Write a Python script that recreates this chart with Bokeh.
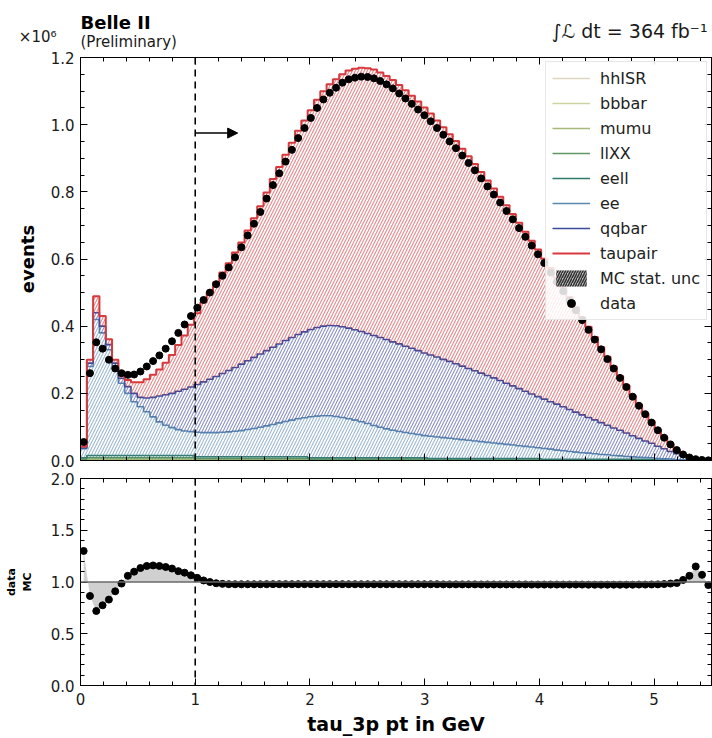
import numpy as np
from bokeh.plotting import figure
from bokeh.layouts import column
from bokeh.models import (Range1d, LinearAxis, Span, Arrow, NormalHead,
                          Legend, LegendItem, FixedTicker, PrintfTickFormatter,
                          CustomJSTickFormatter)
from bokeh.core.properties import value
from bokeh.embed import file_html
from bokeh.resources import INLINE

# ---------------- data (events in units of 10^6) ----------------
x_lo, x_hi, n_bins = 0.0, 5.5, 100
x_ticks = [0, 1, 2, 3, 4, 5]
y_ticks = [0.0, 0.2, 0.4, 0.6, 0.8, 1.0, 1.2]
ratio_ticks = [0.0, 0.5, 1.0, 1.5, 2.0]

hhISR = [0.0005, 0.001, 0.001, 0.001, 0.001, 0.001, 0.001, 0.001, 0.001, 0.001,
         0.001, 0.001, 0.001, 0.001, 0.001, 0.001, 0.001, 0.001, 0.0008, 0.0008,
         0.0008, 0.0008, 0.0008, 0.0008, 0.0008, 0.0008, 0.0008, 0.0008, 0.0008, 0.0008,
         0.0008, 0.0008, 0.0008, 0.0008, 0.0008, 0.0008, 0.0006, 0.0006, 0.0006, 0.0006,
         0.0006, 0.0006, 0.0006, 0.0006, 0.0006, 0.0006, 0.0006, 0.0006, 0.0006, 0.0006,
         0.0006, 0.0006, 0.0006, 0.0006, 0.0006, 0.0004, 0.0004, 0.0004, 0.0004, 0.0004,
         0.0004, 0.0004, 0.0004, 0.0004, 0.0004, 0.0004, 0.0004, 0.0004, 0.0004, 0.0004,
         0.0004, 0.0004, 0.0004, 0.0002, 0.0002, 0.0002, 0.0002, 0.0002, 0.0002, 0.0002,
         0.0002, 0.0002, 0.0002, 0.0002, 0.0002, 0.0002, 0.0002, 0.0002, 0.0002, 0.0002,
         0.0002, 0.0001, 0.0001, 0.0001, 0.0001, 0.0001, 0.0001, 0.0001, 0.0001, 0.0001]
bbbar = [0.0005, 0.001, 0.001, 0.001, 0.001, 0.001, 0.001, 0.001, 0.001, 0.001,
         0.001, 0.001, 0.001, 0.001, 0.001, 0.001, 0.001, 0.001, 0.0008, 0.0008,
         0.0008, 0.0008, 0.0008, 0.0008, 0.0008, 0.0008, 0.0008, 0.0008, 0.0008, 0.0008,
         0.0008, 0.0008, 0.0008, 0.0008, 0.0008, 0.0008, 0.0006, 0.0006, 0.0006, 0.0006,
         0.0006, 0.0006, 0.0006, 0.0006, 0.0006, 0.0006, 0.0006, 0.0006, 0.0006, 0.0006,
         0.0006, 0.0006, 0.0006, 0.0006, 0.0006, 0.0004, 0.0004, 0.0004, 0.0004, 0.0004,
         0.0004, 0.0004, 0.0004, 0.0004, 0.0004, 0.0004, 0.0004, 0.0004, 0.0004, 0.0004,
         0.0004, 0.0004, 0.0004, 0.0002, 0.0002, 0.0002, 0.0002, 0.0002, 0.0002, 0.0002,
         0.0002, 0.0002, 0.0002, 0.0002, 0.0002, 0.0002, 0.0002, 0.0002, 0.0002, 0.0002,
         0.0002, 0.0001, 0.0001, 0.0001, 0.0001, 0.0001, 0.0001, 0.0001, 0.0001, 0.0001]
mumu = [0.001, 0.002, 0.002, 0.002, 0.002, 0.002, 0.002, 0.002, 0.002, 0.002,
        0.002, 0.002, 0.002, 0.002, 0.002, 0.002, 0.002, 0.002, 0.0015, 0.0015,
        0.0015, 0.0015, 0.0015, 0.0015, 0.0015, 0.0015, 0.0015, 0.0015, 0.0015, 0.0015,
        0.0015, 0.0015, 0.0015, 0.0015, 0.0015, 0.0015, 0.001, 0.001, 0.001, 0.001,
        0.001, 0.001, 0.001, 0.001, 0.001, 0.001, 0.001, 0.001, 0.001, 0.001,
        0.001, 0.001, 0.001, 0.001, 0.001, 0.0008, 0.0008, 0.0008, 0.0008, 0.0008,
        0.0008, 0.0008, 0.0008, 0.0008, 0.0008, 0.0008, 0.0008, 0.0008, 0.0008, 0.0008,
        0.0008, 0.0008, 0.0008, 0.0005, 0.0005, 0.0005, 0.0005, 0.0005, 0.0005, 0.0005,
        0.0005, 0.0005, 0.0005, 0.0005, 0.0005, 0.0005, 0.0005, 0.0005, 0.0005, 0.0005,
        0.0005, 0.0002, 0.0002, 0.0002, 0.0002, 0.0002, 0.0002, 0.0002, 0.0002, 0.0002]
llXX = [0.002, 0.004, 0.004, 0.004, 0.004, 0.004, 0.004, 0.004, 0.004, 0.004,
        0.004, 0.004, 0.004, 0.004, 0.004, 0.004, 0.004, 0.004, 0.003, 0.003,
        0.003, 0.003, 0.003, 0.003, 0.003, 0.003, 0.003, 0.003, 0.003, 0.003,
        0.003, 0.003, 0.003, 0.003, 0.003, 0.003, 0.002, 0.002, 0.002, 0.002,
        0.002, 0.002, 0.002, 0.002, 0.002, 0.002, 0.002, 0.002, 0.002, 0.002,
        0.002, 0.002, 0.002, 0.002, 0.002, 0.0015, 0.0015, 0.0015, 0.0015, 0.0015,
        0.0015, 0.0015, 0.0015, 0.0015, 0.0015, 0.0015, 0.0015, 0.0015, 0.0015, 0.0015,
        0.0015, 0.0015, 0.0015, 0.001, 0.001, 0.001, 0.001, 0.001, 0.001, 0.001,
        0.001, 0.001, 0.001, 0.001, 0.001, 0.001, 0.001, 0.001, 0.001, 0.001,
        0.001, 0.0004, 0.0004, 0.0004, 0.0004, 0.0004, 0.0004, 0.0004, 0.0004, 0.0004]
eell = [0.004, 0.007, 0.007, 0.007, 0.007, 0.007, 0.007, 0.007, 0.007, 0.007,
        0.007, 0.007, 0.007, 0.007, 0.007, 0.007, 0.007, 0.007, 0.005, 0.005,
        0.005, 0.005, 0.005, 0.005, 0.005, 0.005, 0.005, 0.005, 0.005, 0.005,
        0.005, 0.005, 0.005, 0.005, 0.005, 0.005, 0.004, 0.004, 0.004, 0.004,
        0.004, 0.004, 0.004, 0.004, 0.004, 0.004, 0.004, 0.004, 0.004, 0.004,
        0.004, 0.004, 0.004, 0.004, 0.004, 0.003, 0.003, 0.003, 0.003, 0.003,
        0.003, 0.003, 0.003, 0.003, 0.003, 0.003, 0.003, 0.003, 0.003, 0.003,
        0.003, 0.003, 0.003, 0.002, 0.002, 0.002, 0.002, 0.002, 0.002, 0.002,
        0.002, 0.002, 0.002, 0.002, 0.002, 0.002, 0.002, 0.002, 0.002, 0.002,
        0.002, 0.0008, 0.0008, 0.0008, 0.0008, 0.0008, 0.0008, 0.0008, 0.0008, 0.0008]
ee = [0.027, 0.265, 0.405, 0.365, 0.315, 0.265, 0.215, 0.185, 0.16, 0.145,
      0.13, 0.115, 0.10, 0.09, 0.083, 0.077, 0.073, 0.071, 0.073, 0.072,
      0.072, 0.072, 0.073, 0.074, 0.076, 0.078, 0.081, 0.084, 0.088, 0.092,
      0.096, 0.101, 0.105, 0.109, 0.113, 0.116, 0.122, 0.124, 0.125, 0.125,
      0.123, 0.12, 0.116, 0.112, 0.107, 0.102, 0.096, 0.091, 0.086, 0.082,
      0.078, 0.075, 0.072, 0.069, 0.066, 0.066, 0.064, 0.062, 0.06, 0.058,
      0.056, 0.054, 0.052, 0.05, 0.048, 0.046, 0.044, 0.042, 0.04, 0.038,
      0.036, 0.034, 0.032, 0.032, 0.03, 0.027, 0.025, 0.023, 0.021, 0.019,
      0.018, 0.016, 0.014, 0.013, 0.011, 0.01, 0.008, 0.007, 0.006, 0.005,
      0.0045, 0.004, 0.0032, 0.0024, 0.0014, 0.0009, 0.0004, 0.0002, 0.0001, 0.0]
qqbar = [0.002, 0.01, 0.02, 0.02, 0.015, 0.01, 0.015, 0.02, 0.025, 0.028,
         0.041, 0.058, 0.077, 0.091, 0.102, 0.114, 0.124, 0.133, 0.142, 0.151,
         0.159, 0.167, 0.175, 0.183, 0.19, 0.198, 0.205, 0.212, 0.218, 0.224,
         0.23, 0.235, 0.241, 0.246, 0.251, 0.256, 0.26, 0.264, 0.267, 0.269,
         0.27, 0.27, 0.27, 0.269, 0.269, 0.268, 0.268, 0.267, 0.266, 0.263,
         0.261, 0.257, 0.254, 0.25, 0.246, 0.242, 0.238, 0.233, 0.229, 0.224,
         0.219, 0.214, 0.209, 0.204, 0.199, 0.194, 0.188, 0.182, 0.176, 0.17,
         0.164, 0.158, 0.152, 0.147, 0.141, 0.137, 0.131, 0.125, 0.119, 0.113,
         0.106, 0.101, 0.095, 0.088, 0.082, 0.076, 0.07, 0.063, 0.056, 0.049,
         0.043, 0.037, 0.03, 0.023, 0.017, 0.0105, 0.005, 0.0012, 0.0, 0.0]
taupair = [0.005, 0.01, 0.049, 0.03, 0.016, 0.01, 0.019, 0.02, 0.033, 0.045,
           0.056, 0.067, 0.079, 0.095, 0.114, 0.138, 0.16, 0.185, 0.212, 0.237,
           0.258, 0.281, 0.301, 0.319, 0.342, 0.362, 0.388, 0.414, 0.44, 0.471,
           0.501, 0.527, 0.553, 0.58, 0.607, 0.629, 0.653, 0.678, 0.699, 0.718,
           0.734, 0.752, 0.767, 0.777, 0.785, 0.79, 0.792, 0.789, 0.785, 0.78,
           0.771, 0.762, 0.752, 0.742, 0.731, 0.719, 0.704, 0.691, 0.676, 0.663,
           0.647, 0.632, 0.616, 0.599, 0.581, 0.564, 0.547, 0.53, 0.512, 0.494,
           0.475, 0.456, 0.438, 0.418, 0.398, 0.376, 0.355, 0.335, 0.313, 0.291,
           0.27, 0.247, 0.225, 0.204, 0.183, 0.162, 0.142, 0.12, 0.101, 0.083,
           0.066, 0.049, 0.035, 0.022, 0.011, 0.0046, 0.0015, 0.0005, 0.0, 0.0]
data = [0.055, 0.26, 0.352, 0.333, 0.30, 0.274, 0.26, 0.255, 0.256, 0.265,
        0.28, 0.296, 0.313, 0.333, 0.355, 0.38, 0.405, 0.43, 0.455, 0.478,
        0.50, 0.525, 0.55, 0.575, 0.605, 0.635, 0.67, 0.705, 0.74, 0.78,
        0.82, 0.855, 0.89, 0.925, 0.96, 0.99, 1.02, 1.05, 1.075, 1.095,
        1.11, 1.125, 1.135, 1.14, 1.143, 1.142, 1.138, 1.13, 1.12, 1.108,
        1.093, 1.078, 1.062, 1.045, 1.028, 1.01, 0.99, 0.97, 0.95, 0.93,
        0.908, 0.886, 0.864, 0.84, 0.816, 0.792, 0.768, 0.743, 0.718, 0.692,
        0.666, 0.64, 0.614, 0.588, 0.56, 0.532, 0.504, 0.476, 0.447, 0.418,
        0.389, 0.36, 0.331, 0.302, 0.274, 0.246, 0.219, 0.19, 0.163, 0.138,
        0.113, 0.09, 0.068, 0.048, 0.031, 0.018, 0.009, 0.004, 0.0015, 0.0005]
ratio = [1.30, 0.865, 0.72, 0.775, 0.83, 0.91, 0.985, 1.06, 1.10, 1.135,
         1.155, 1.16, 1.155, 1.145, 1.13, 1.105, 1.09, 1.065, 1.04, 1.015,
         1.0, 0.988, 0.982, 0.979, 0.978, 0.978, 0.978, 0.978, 0.978, 0.979,
         0.979, 0.979, 0.979, 0.979, 0.979, 0.979, 0.979, 0.979, 0.979, 0.979,
         0.979, 0.979, 0.978, 0.978, 0.978, 0.978, 0.978, 0.978, 0.978, 0.978,
         0.978, 0.978, 0.978, 0.978, 0.978, 0.978, 0.978, 0.977, 0.977, 0.977,
         0.977, 0.977, 0.977, 0.976, 0.976, 0.976, 0.976, 0.976, 0.976, 0.976,
         0.976, 0.975, 0.975, 0.975, 0.975, 0.975, 0.975, 0.975, 0.975, 0.975,
         0.974, 0.974, 0.974, 0.974, 0.974, 0.974, 0.974, 0.974, 0.975, 0.975,
         0.976, 0.977, 0.98, 0.985, 0.99, 1.02, 1.06, 1.15, 1.07, 0.97]

process_names = ["hhISR", "bbbar", "mumu", "llXX", "eell", "ee", "qqbar", "taupair"]
process_colors = ["#ddd5c0", "#cfd3a3", "#a7b878", "#5f9866", "#2f7b6b", "#5a88b0", "#3a4a9c", "#d8393c"]
process_values = [hhISR, bbbar, mumu, llXX, eell, ee, qqbar, taupair]

edges = np.linspace(x_lo, x_hi, n_bins + 1)
centers = 0.5 * (edges[:-1] + edges[1:])

FONT = "DejaVu Sans"
TXT = "#1a1a1a"
BLANK = CustomJSTickFormatter(code="return ''")


def style_axis(ax, ticks, minor_step, labels):
    lo, hi = min(ticks), max(ticks)
    ax.ticker = FixedTicker(ticks=ticks,
                            minor_ticks=list(np.round(np.arange(lo, hi + 0.6, minor_step), 3)))
    ax.major_tick_in = 7
    ax.major_tick_out = 0
    ax.minor_tick_in = 4
    ax.minor_tick_out = 0
    ax.axis_line_color = "black"
    ax.major_tick_line_color = "black"
    ax.minor_tick_line_color = "black"
    ax.major_label_text_font = FONT
    ax.major_label_text_font_size = "15px"
    ax.major_label_text_color = TXT
    ax.axis_label_text_font = FONT
    if labels:
        ax.formatter = PrintfTickFormatter(format="%.1f") if labels == "f" else PrintfTickFormatter(format="%d")
    else:
        ax.formatter = BLANK
        ax.major_label_standoff = 0


# ---------------- header (texts above the plot frame; x in screen pixels) ----------------
hdr = figure(width=712, height=50, x_range=Range1d(80, 711), y_range=Range1d(0, 50),
             output_backend="svg", toolbar_location=None, min_border_left=80,
             min_border_right=1, min_border_top=0, min_border_bottom=0,
             x_axis_type=None, outline_line_color=None)
hdr.grid.visible = False
hax = hdr.left[0]
hax.ticker = FixedTicker(ticks=[14])
hax.major_label_overrides = {14: "×10⁶"}
hax.axis_line_color = None
hax.major_tick_line_color = None
hax.minor_tick_line_color = None
hax.major_label_standoff = 18
hax.major_label_text_font = FONT
hax.major_label_text_font_size = "15px"
hax.major_label_text_color = TXT
hdr.text(x=[80], y=[28], text=["Belle II"], text_font=value(FONT), text_font_size="18px",
         text_font_style="bold", text_color="black", text_baseline="alphabetic")
hdr.text(x=[80], y=[9], text=["(Preliminary)"], text_font=value(FONT), text_font_size="15px",
         text_color=TXT, text_baseline="alphabetic")
hdr.text(x=[707], y=[20], text=["∫ℒ dt = 364 fb⁻¹"], text_font=value(FONT),
         text_font_size="19px", text_color=TXT, text_align="right", text_baseline="middle")

# ---------------- top panel ----------------
p = figure(width=712, height=419, x_range=Range1d(x_lo, x_hi), y_range=Range1d(0, 1.2),
           output_backend="svg", toolbar_location=None,
           min_border_left=80, min_border_right=1, min_border_top=7, min_border_bottom=9)
p.add_layout(LinearAxis(), "right")
p.add_layout(LinearAxis(), "above")
p.grid.visible = False
p.outline_line_color = "black"
style_axis(p.below[0], x_ticks, 0.2, None)
style_axis(p.above[0], x_ticks, 0.2, None)
style_axis(p.left[0], y_ticks, 0.05, "f")
style_axis(p.right[0], y_ticks, 0.05, None)
p.left[0].axis_label = "events"
p.left[0].axis_label_text_font_size = "18px"
p.left[0].axis_label_text_font_style = "bold"
p.left[0].axis_label_text_color = "black"
p.left[0].axis_label_standoff = 10
p.left[0].major_label_standoff = 6

base = np.zeros(n_bins)
items = []
for name, col, vals in zip(process_names, process_colors, process_values):
    top = base + np.array(vals)
    p.varea_step(x=edges, y1=np.append(base, base[-1]), y2=np.append(top, top[-1]),
                 step_mode="after", fill_alpha=0, hatch_pattern="/", hatch_color=col,
                 hatch_alpha=0.6, hatch_scale=6, hatch_weight=1.1)
    r = p.step(x=edges, y=np.append(top, top[-1]), mode="after", line_color=col,
               line_width=2 if name == "taupair" else 1.6)
    items.append(LegendItem(label=name, renderers=[r]))
    base = top

# legend-only handle (outside the visible x range)
unc = p.varea(x=[-3, -2], y1=[0, 0], y2=[1, 1], fill_color="#888888", fill_alpha=0.6,
              hatch_pattern="/", hatch_color="#333333", hatch_scale=5, hatch_weight=1.5)
items.append(LegendItem(label="MC stat. unc", renderers=[unc]))

pts = p.scatter(x=centers, y=data, size=7, color="black")
items.append(LegendItem(label="data", renderers=[pts]))

legend = Legend(items=items, location="top_right", margin=4, padding=6, spacing=5,
                glyph_width=38, glyph_height=20, label_standoff=10,
                label_text_font=FONT, label_text_font_size="16px", label_text_color="#222222",
                border_line_color="#cfcfcf", background_fill_alpha=0.85)
p.add_layout(legend)

p.add_layout(Span(location=1.0, dimension="height", line_dash="7 5", line_width=1.6,
                  line_color="black"))
p.add_layout(Arrow(x_start=1.0, y_start=0.975, x_end=1.37, y_end=0.975, line_width=1.5,
                   end=NormalHead(size=10, fill_color="black", line_color="black")))

# ---------------- ratio panel ----------------
p2 = figure(width=712, height=269, x_range=p.x_range, y_range=Range1d(0, 2.0),
            output_backend="svg", toolbar_location=None,
            min_border_left=80, min_border_right=1, min_border_top=9, min_border_bottom=53)
p2.add_layout(LinearAxis(), "right")
p2.add_layout(LinearAxis(), "above")
p2.grid.visible = False
p2.outline_line_color = "black"
style_axis(p2.below[0], x_ticks, 0.2, "d")
style_axis(p2.above[0], x_ticks, 0.2, None)
style_axis(p2.left[0], ratio_ticks, 0.1, "f")
style_axis(p2.right[0], ratio_ticks, 0.1, None)
p2.left[0].major_label_standoff = 6
p2.left[0].axis_label = "data\nMC"
p2.left[0].axis_label_text_font_size = "11px"
p2.left[0].axis_label_text_font_style = "bold"
p2.left[0].axis_label_text_color = "black"
p2.left[0].axis_label_standoff = 14
p2.below[0].axis_label = "tau_3p pt in GeV"
p2.below[0].axis_label_text_font_size = "19px"
p2.below[0].axis_label_text_font_style = "bold"
p2.below[0].axis_label_text_color = "black"
p2.below[0].major_label_standoff = 7
p2.below[0].axis_label_standoff = 5

p2.varea(x=centers, y1=np.ones(n_bins), y2=ratio, fill_color="#c4c4c4", fill_alpha=0.8)
p2.add_layout(Span(location=1.0, dimension="width", line_color="#6a6a6a", line_width=1.6))
p2.scatter(x=centers, y=ratio, size=7, color="black")
p2.add_layout(Span(location=1.0, dimension="height", line_dash="7 5", line_width=1.6,
                   line_color="black"))

layout = column(hdr, p, p2, spacing=0)
open("out.html", "w").write(file_html(layout, INLINE))
